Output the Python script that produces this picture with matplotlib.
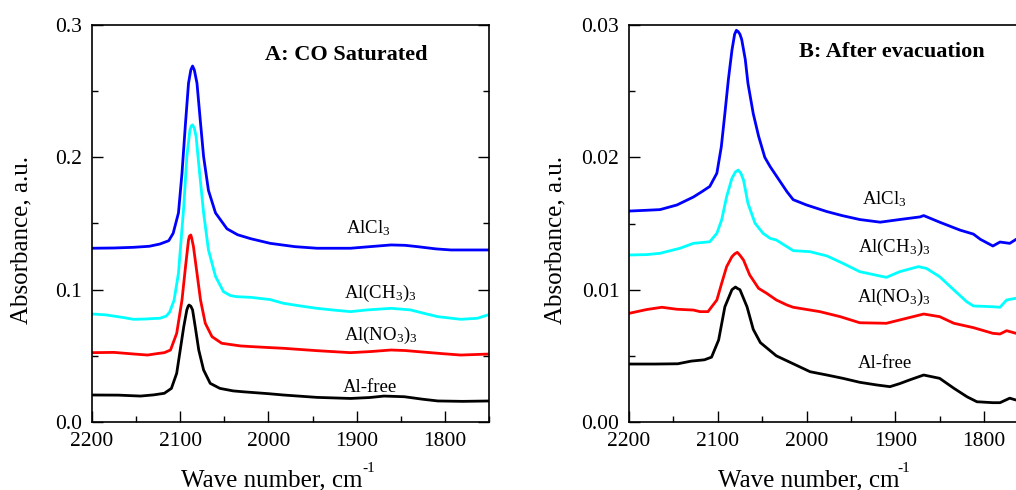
import matplotlib
matplotlib.use("Agg")
import matplotlib.pyplot as plt
from matplotlib.ticker import MultipleLocator, FormatStrFormatter

plt.rcParams['font.family'] = ['Liberation Serif', 'DejaVu Serif']
plt.rcParams['mathtext.fontset'] = 'custom'
plt.rcParams['mathtext.rm'] = 'Liberation Serif'
plt.rcParams['mathtext.it'] = 'Liberation Serif:italic'
plt.rcParams['mathtext.bf'] = 'Liberation Serif:bold'

# ---- panel A: CO saturated ----
a_alcl3_wn = [2200, 2175, 2153, 2135, 2123, 2113, 2108, 2102, 2098, 2094, 2090.6, 2088, 2086, 2084,
              2081, 2077, 2073.5, 2068, 2060, 2047, 2035, 2020, 1998, 1970, 1945, 1907, 1885,
              1861, 1845, 1831, 1810, 1793, 1770, 1750]
a_alcl3_ab = [0.1313, 0.1315, 0.1320, 0.1328, 0.1345, 0.137, 0.1426, 0.158, 0.188, 0.226, 0.256,
              0.266, 0.269, 0.266, 0.256, 0.226, 0.2005, 0.175, 0.158, 0.146, 0.1415, 0.1385,
              0.135, 0.1325, 0.1313, 0.1313, 0.1325, 0.1338, 0.1335, 0.1325, 0.1308, 0.130,
              0.130, 0.130]

a_ch3_wn = [2200, 2185, 2165, 2153, 2140, 2130, 2123, 2116, 2112, 2107, 2102, 2096, 2092.5, 2089,
            2087.5, 2086, 2084, 2082, 2078, 2073.5, 2068, 2060, 2051, 2043, 2036, 2020, 1998,
            1983, 1965, 1945, 1925, 1907, 1888, 1861, 1839, 1820, 1808, 1782, 1763, 1748]
a_ch3_ab = [0.0816, 0.0810, 0.0790, 0.0776, 0.0778, 0.0782, 0.0784, 0.0800, 0.083, 0.092, 0.1124,
            0.1627, 0.2005, 0.2207, 0.2238, 0.2245, 0.222, 0.2157, 0.188, 0.158, 0.130, 0.110,
            0.0985, 0.0955, 0.0947, 0.0942, 0.0925, 0.0897, 0.0878, 0.0859, 0.0845, 0.0834,
            0.0847, 0.0859, 0.0847, 0.0815, 0.0796, 0.0776, 0.0784, 0.0816]

a_no3_wn = [2200, 2175, 2153, 2137, 2125, 2118, 2111, 2104, 2098, 2094, 2090.6, 2089.5, 2088, 2087,
            2085, 2081, 2077, 2071.6, 2064, 2053, 2032, 2020, 1998, 1983, 1945, 1907, 1885,
            1861, 1845, 1831, 1800, 1782, 1748]
a_no3_ab = [0.0524, 0.0526, 0.0514, 0.0506, 0.0518, 0.0524, 0.0544, 0.067, 0.0922, 0.1174, 0.1376,
            0.1405, 0.1413, 0.139, 0.1325, 0.1124, 0.0922, 0.0746, 0.0645, 0.0595, 0.0575,
            0.0570, 0.0562, 0.0557, 0.0539, 0.0524, 0.0532, 0.0544, 0.0540, 0.0532, 0.0515,
            0.0506, 0.0514]

a_free_wn = [2200, 2170, 2145, 2130, 2118, 2110, 2104, 2100, 2096, 2092.5, 2091, 2090, 2088, 2086,
             2083, 2079, 2073.5, 2066, 2055, 2040, 2028, 2020, 2000, 1983, 1945, 1907, 1885,
             1869, 1846, 1825, 1808, 1780, 1748]
a_free_ab = [0.0204, 0.0203, 0.0196, 0.0205, 0.0217, 0.0254, 0.0368, 0.0544, 0.072, 0.0847, 0.0875,
             0.0884, 0.0875, 0.0847, 0.072, 0.0544, 0.0393, 0.0292, 0.0254, 0.0235, 0.0228,
             0.0224, 0.0214, 0.0204, 0.0186, 0.0178, 0.0185, 0.0196, 0.0191, 0.0172, 0.0159,
             0.0156, 0.0159]

# ---- panel B: after evacuation ----
b_alcl3_wn = [2200, 2180, 2165, 2146, 2127.5, 2118, 2109, 2101, 2096, 2092, 2088, 2084, 2081, 2079,
              2077, 2075, 2073, 2069, 2066, 2060, 2054, 2047, 2041, 2035, 2029, 2022, 2015, 2000,
              1977, 1960, 1940, 1917, 1895, 1872, 1868, 1850, 1827, 1812, 1804, 1790, 1782, 1771,
              1764, 1750]
b_alcl3_ab = [0.01594, 0.01600, 0.01605, 0.0164, 0.0170, 0.0174, 0.0178, 0.0188, 0.0208, 0.0233,
              0.0259, 0.0281, 0.0293, 0.0296, 0.0295, 0.0293, 0.0289, 0.0274, 0.0256, 0.0233,
              0.0216, 0.0200, 0.0193, 0.0187, 0.0181, 0.0174, 0.0168, 0.0164, 0.0159, 0.0156,
              0.0153, 0.0151, 0.0153, 0.0155, 0.0156, 0.0151, 0.0145, 0.0142, 0.0138, 0.0133,
              0.0136, 0.0135, 0.0138, 0.0140]

b_ch3_wn = [2200, 2180, 2165, 2142.5, 2127.5, 2109, 2101, 2095.6, 2090, 2084, 2080, 2077, 2074,
            2071, 2066, 2058, 2049, 2041, 2034, 2015, 1996, 1977, 1959, 1940, 1910, 1895, 1874,
            1865, 1850, 1834, 1819.5, 1812, 1790, 1782, 1774.5, 1764, 1750]
b_ch3_ab = [0.01262, 0.01265, 0.01275, 0.01313, 0.0135, 0.01362, 0.01426, 0.01527, 0.01703,
            0.01842, 0.0189, 0.01904, 0.0188, 0.01829, 0.01653, 0.01502, 0.01426, 0.01388,
            0.01375, 0.01295, 0.01287, 0.01255, 0.01199, 0.01136, 0.01093, 0.01136, 0.01174,
            0.01161, 0.01098, 0.00998, 0.00909, 0.00877, 0.00871, 0.00867, 0.00922, 0.00935,
            0.0093]

b_no3_wn = [2200, 2180, 2163, 2146, 2127.5, 2120, 2111, 2101, 2095.6, 2090, 2084, 2081, 2078, 2075,
            2071, 2064, 2054, 2045, 2034, 2022, 2015, 1985, 1962, 1940, 1910, 1895, 1868, 1850,
            1834, 1812, 1790, 1782, 1774.5, 1764, 1750]
b_no3_ab = [0.00821, 0.0085, 0.00867, 0.00852, 0.00846, 0.00834, 0.00834, 0.00922, 0.01048,
            0.01174, 0.01249, 0.0127, 0.01282, 0.0126, 0.01224, 0.01111, 0.0101, 0.00973,
            0.00922, 0.00884, 0.00867, 0.00834, 0.00796, 0.0075, 0.00746, 0.00771, 0.00816,
            0.00796, 0.00746, 0.00713, 0.0067, 0.00665, 0.0069, 0.0067, 0.0067]

b_free_wn = [2200, 2170, 2145, 2130, 2115, 2107, 2099, 2092, 2084, 2082, 2080, 2078, 2075, 2067,
             2060, 2052, 2034, 2015, 1996, 1977, 1959, 1940, 1921, 1906, 1895, 1883, 1868, 1850,
             1834, 1819, 1808, 1790, 1782, 1771, 1764, 1750]
b_free_ab = [0.00438, 0.00438, 0.0044, 0.0046, 0.0047, 0.0049, 0.0062, 0.0087, 0.0100, 0.0101,
             0.0102, 0.0101, 0.0100, 0.0087, 0.0070, 0.0060, 0.0050, 0.0044, 0.0038, 0.00355,
             0.0033, 0.0030, 0.0028, 0.00267, 0.0029, 0.0032, 0.00355, 0.0033, 0.00255, 0.0019,
             0.00153, 0.00146, 0.00146, 0.0018, 0.00166, 0.0016]

labels = ['AlCl$_3$', 'Al(CH$_3$)$_3$', 'Al(NO$_3$)$_3$', 'Al-free']
colors = ['#0000ff', '#00ffff', '#ff0000', '#000000']

a_series = [(a_alcl3_wn, a_alcl3_ab), (a_ch3_wn, a_ch3_ab), (a_no3_wn, a_no3_ab), (a_free_wn, a_free_ab)]
b_series = [(b_alcl3_wn, b_alcl3_ab), (b_ch3_wn, b_ch3_ab), (b_no3_wn, b_no3_ab), (b_free_wn, b_free_ab)]

# label anchor points (wavenumber, absorbance at baseline)
a_label_pos = [(1912, 0.1426), (1914, 0.0935), (1914, 0.062), (1916, 0.0229)]
b_label_pos = [(1938, 0.01647), (1942, 0.01282), (1943, 0.00909), (1942, 0.00406)]

fig = plt.figure(figsize=(10.16, 4.9), dpi=100)
ax1 = fig.add_axes([92 / 1016, 68 / 490, 397 / 1016, 397 / 490])
ax2 = fig.add_axes([629 / 1016, 68 / 490, 399.4 / 1016, 397 / 490])


def style_axis(ax, ymax, ymajor, fmt, xlab_x, sup_x):
    ax.set_xlim(2200, 1750)
    ax.set_ylim(0, ymax)
    ax.xaxis.set_major_locator(MultipleLocator(100))
    ax.xaxis.set_minor_locator(MultipleLocator(50))
    ax.yaxis.set_major_locator(MultipleLocator(ymajor))
    ax.yaxis.set_minor_locator(MultipleLocator(ymajor / 2))
    ax.yaxis.set_major_formatter(FormatStrFormatter(fmt))
    ax.tick_params(which='both', direction='in', top=False, right=True, labelsize=15.5, width=1)
    ax.tick_params(which='major', length=8, pad=7)
    ax.tick_params(which='minor', length=4.5)
    for sp in ax.spines.values():
        sp.set_linewidth(1.2)
    ax.set_xlabel('Wave number, cm', fontsize=18)
    ax.xaxis.label.set_va('baseline')
    ax.xaxis.set_label_coords(xlab_x, -0.163)
    ax.text(sup_x, -0.127, '-1', transform=ax.transAxes, fontsize=11,
            ha='left', va='baseline', clip_on=False)
    ax.set_ylabel('Absorbance, a.u.', fontsize=18)


for ax, series, pos in [(ax1, a_series, a_label_pos), (ax2, b_series, b_label_pos)]:
    for (wn, ab), c, lab, (tx, ty) in zip(series, colors, labels, pos):
        ax.plot(wn, ab, color=c, lw=2)
        ax.text(tx, ty, lab, fontsize=13.5, ha='left', va='baseline')

style_axis(ax1, 0.3, 0.1, '%.1f', 0.453, 0.681)
style_axis(ax2, 0.03, 0.01, '%.2f', 0.451, 0.672)
ax1.yaxis.set_label_coords(-0.151, 0.458)
ax2.yaxis.set_label_coords(-0.156, 0.458)

ax1.text(0.436, 0.912, 'A: CO Saturated', transform=ax1.transAxes, fontsize=16,
         fontweight='bold', ha='left', va='baseline')
ax2.text(0.4265, 0.920, 'B: After evacuation', transform=ax2.transAxes, fontsize=16,
         fontweight='bold', ha='left', va='baseline')

fig.savefig('out.png', dpi=100)
